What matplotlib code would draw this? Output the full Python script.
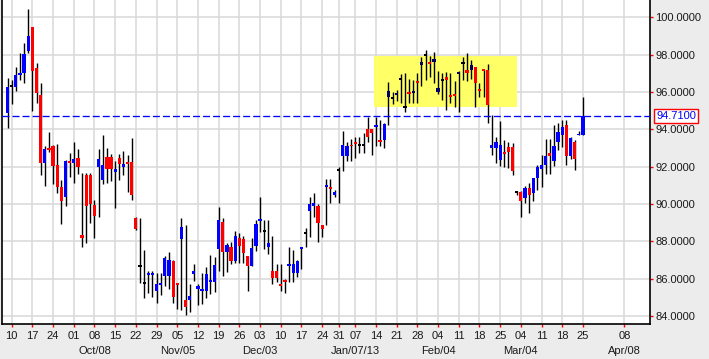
import numpy as np
import pandas as pd
import matplotlib
matplotlib.use("Agg")
import matplotlib.pyplot as plt
from matplotlib.patches import Rectangle

plt.rcParams["font.family"] = ["Liberation Sans", "DejaVu Sans"]

# daily bars, Sep 7 2012 .. Mar 25 2013 (no bars on Christmas / New Year)
first_day = "2012-09-07"
closed_days = ["2012-12-25", "2013-01-01"]

opens = [94.86,
         96.30, 96.29, 96.93, 97.00, 98.20,
         99.46, 97.27, 95.82, 92.21, 92.96,
         93.11, 92.11, 90.89, 90.36, 92.27,
         92.18, 92.46, 88.32, 91.55, 91.55,
         89.95, 92.00, 91.29, 92.52, 92.52,
         91.73, 92.46, 92.00, 92.25, 92.25,
         89.25, 86.66, 85.77, 86.20, 86.20,
         85.36, 85.68, 86.16, 86.16, 86.95,
         85.73, 88.11, 84.86, 84.86, 86.25,
         85.45, 85.37, 85.32, 85.86, 85.84,
         87.60, 89.05, 87.41, 87.71, 86.96,
         88.20, 88.10, 87.21, 86.70, 87.77,
         89.10, 88.55, 87.71, 86.41, 86.41,
         85.66, 85.88, 86.70, 86.29, 86.29,
         87.61, 88.43, 89.64, 89.91, 89.91,
         88.88, 90.89, 90.89, 90.46,
         91.82, 92.57, 92.59, 93.16,
         93.34, 93.14, 93.14, 94.00, 94.00,
         94.14, 93.43, 93.43, 95.71, 95.66,
         95.84, 96.68, 95.21, 95.96, 95.98,
         96.54, 97.45, 97.96, 97.59, 97.63,
         95.98, 96.64, 96.79, 95.84, 95.86,
         96.95, 97.54, 97.18, 97.18, 97.32,
         96.12, 97.18, 97.18, 92.98, 92.98,
         92.36, 92.80, 93.04, 93.07, 90.66,
         90.66, 90.34, 90.88, 90.57, 91.41,
         91.86, 92.09, 92.75, 92.32, 93.34,
         93.70, 94.23, 92.57, 93.32, 93.70,
         93.70]
highs = [96.73,
         96.64, 97.32, 98.07, 98.61, 100.45,
         99.50, 97.54, 96.46, 93.13, 93.84,
         93.15, 93.21, 91.29, 92.35, 92.71,
         93.34, 92.93, 91.64, 91.64, 91.64,
         90.21, 92.93, 93.70, 93.02, 92.68,
         92.30, 92.68, 92.84, 92.63, 93.55,
         89.30, 89.23, 87.54, 86.43, 86.43,
         86.29, 86.29, 87.21, 87.41, 87.00,
         85.75, 89.25, 88.86, 85.71, 86.79,
         85.71, 86.29, 86.61, 87.27, 87.18,
         89.82, 89.23, 87.93, 87.95, 88.55,
         88.43, 88.29, 87.21, 88.20, 89.14,
         90.36, 89.14, 89.14, 88.29, 86.80,
         86.79, 86.00, 87.68, 87.54, 87.00,
         87.71, 88.70, 90.39, 90.57, 90.00,
         88.90, 91.32, 91.32, 90.75,
         92.00, 93.93, 93.30, 93.50,
         93.60, 93.60, 93.80, 94.68, 94.00,
         94.68, 94.50, 94.32, 96.55, 96.02,
         96.10, 96.96, 97.00, 96.68, 96.64,
         97.00, 97.89, 98.25, 97.93, 98.16,
         97.14, 97.00, 97.09, 97.00, 96.61,
         97.14, 97.86, 98.11, 97.71, 97.35,
         96.50, 97.20, 97.50, 94.75, 93.60,
         94.45, 93.43, 93.34, 93.25, 90.70,
         90.70, 90.96, 91.11, 91.41, 92.09,
         92.63, 93.46, 93.46, 94.23, 94.36,
         94.50, 94.50, 93.61, 93.43, 93.90,
         95.71]
lows = [94.09,
        95.36, 96.07, 96.64, 96.50, 98.07,
        95.00, 95.43, 91.55, 90.98, 92.80,
        91.07, 90.61, 88.93, 89.91, 91.43,
        91.14, 91.61, 87.71, 87.93, 89.00,
        88.20, 89.32, 91.05, 91.14, 91.23,
        89.80, 91.29, 91.55, 90.63, 90.23,
        88.61, 85.75, 84.95, 85.25, 85.04,
        84.68, 85.13, 85.63, 85.43, 84.68,
        84.40, 84.32, 84.05, 84.23, 85.89,
        84.59, 84.63, 84.95, 85.16, 85.30,
        86.40, 86.16, 86.38, 86.80, 86.82,
        86.82, 86.82, 85.36, 86.70, 87.50,
        88.50, 87.59, 87.32, 85.70, 85.84,
        85.36, 85.21, 85.80, 85.80, 86.07,
        86.50, 87.68, 88.25, 89.29, 87.98,
        88.21, 88.88, 90.04, 90.39,
        90.04, 91.79, 92.30, 92.30,
        92.45, 92.71, 92.71, 93.30, 92.62,
        93.11, 93.11, 92.98, 94.23, 95.36,
        95.50, 95.39, 94.95, 95.39, 95.39,
        95.39, 96.32, 96.64, 96.82, 96.50,
        95.89, 95.57, 95.04, 95.39, 95.21,
        94.95, 96.64, 96.61, 96.68, 95.21,
        95.75, 95.75, 94.32, 92.63, 92.20,
        92.05, 91.96, 91.91, 91.55, 90.48,
        89.32, 90.04, 89.54, 90.18, 90.75,
        90.93, 91.61, 91.61, 92.04, 92.89,
        93.07, 92.09, 92.39, 91.82, 93.68,
        93.70]
closes = [96.25,
          96.30, 96.89, 97.00, 98.04, 99.00,
          97.14, 95.96, 92.21, 92.95, 92.89,
          92.05, 90.93, 90.18, 92.30, 92.20,
          92.39, 91.96, 88.20, 89.91, 90.00,
          89.38, 92.41, 92.09, 91.89, 91.89,
          91.86, 92.14, 92.14, 92.14, 90.50,
          88.64, 86.66, 85.77, 86.29, 86.29,
          85.71, 85.75, 87.13, 86.98, 85.04,
          85.66, 88.77, 84.50, 85.09, 86.43,
          85.63, 85.43, 86.25, 85.93, 86.73,
          89.14, 87.45, 87.80, 86.96, 88.29,
          87.77, 87.36, 86.70, 87.66, 88.93,
          89.16, 88.55, 87.91, 86.02, 86.05,
          85.62, 85.84, 86.79, 86.79, 86.96,
          87.71, 88.43, 90.00, 90.04, 89.00,
          88.66, 91.00, 90.84, 90.64,
          91.82, 93.14, 93.11, 93.11,
          93.21, 93.14, 93.14, 93.61, 93.82,
          94.20, 93.34, 94.29, 96.07, 95.66,
          95.93, 96.68, 95.21, 95.90, 96.04,
          96.50, 97.59, 97.96, 97.50, 97.77,
          96.20, 96.64, 96.64, 95.75, 95.82,
          97.07, 97.54, 97.04, 97.43, 96.46,
          96.07, 97.14, 95.30, 93.16, 93.34,
          93.16, 92.71, 92.80, 91.79, 90.66,
          90.18, 90.88, 90.48, 91.41, 92.00,
          92.09, 92.57, 92.57, 93.13, 93.88,
          94.14, 92.57, 93.55, 92.39, 93.75,
          94.71]

last_price = 94.71

# highlighted range
box_from, box_to = "2013-01-14", "2013-03-01"
box_low, box_high = 95.21, 97.93

tick_days = ["2012-09-10", "2012-09-17", "2012-09-24", "2012-10-01", "2012-10-08",
             "2012-10-15", "2012-10-22", "2012-10-29", "2012-11-05", "2012-11-12",
             "2012-11-19", "2012-11-26", "2012-12-03", "2012-12-10", "2012-12-17",
             "2012-12-24", "2012-12-31", "2013-01-07", "2013-01-14", "2013-01-21",
             "2013-01-28", "2013-02-04", "2013-02-11", "2013-02-18", "2013-02-25",
             "2013-03-04", "2013-03-11", "2013-03-18", "2013-03-25", "2013-04-08"]
month_days = ["2012-10-08", "2012-11-05", "2012-12-03", "2013-01-07",
              "2013-02-04", "2013-03-04", "2013-04-08"]
month_labels = ["Oct/08", "Nov/05", "Dec/03", "Jan/07/13", "Feb/04", "Mar/04", "Apr/08"]

# bar slots: weekdays without the closed days, running past the data for the future ticks
days = pd.bdate_range(first_day, "2013-04-30")
days = days[~days.isin(pd.to_datetime(closed_days))]
slot = {d.strftime("%Y-%m-%d"): i for i, d in enumerate(days)}

n = len(closes)
x = np.arange(n)
o = np.array(opens)
c = np.array(closes)
box_x0 = slot[box_from] - 0.5
box_x1 = slot[box_to]

colors = []
for i in range(n):
    if c[i] > o[i]:
        inside = box_x0 <= i <= box_x1 and c[i] > box_low
        colors.append("#000066" if inside else "#0000ff")
    elif c[i] < o[i]:
        colors.append("#ff0000")
    else:
        colors.append("#000000")

body_min = 0.1
bottoms = np.minimum(o, c)
heights = np.abs(c - o)
small = heights < body_min
bottoms[small] = (o[small] + c[small]) / 2 - body_min / 2
heights[small] = body_min

fig = plt.figure(figsize=(7.09, 3.59), dpi=100, facecolor="#ececec")
ax = fig.add_axes([2 / 709, 35 / 359, 648 / 709, 324 / 359])
ax.set_facecolor("white")
ax.set_axisbelow(True)

ax.add_patch(Rectangle((box_x0, box_low), box_x1 - box_x0, box_high - box_low,
                       facecolor="#ffff66", edgecolor="none", zorder=1.5))

ax.vlines(x, lows, highs, color="black", linewidth=1.0, zorder=3)
ax.bar(x, heights, bottom=bottoms, width=0.78, color=colors, linewidth=0, zorder=4)

ax.axhline(last_price, color="#0000ff", linewidth=0.95, linestyle=(0, (5.3, 2.3)), zorder=5)
ax.annotate(f"{last_price:.4f}", xy=(1, last_price), xycoords=("axes fraction", "data"),
            xytext=(4.5, 0), textcoords="offset points", ha="left", va="center",
            color="#0000ff", fontsize=8,
            bbox=dict(boxstyle="square,pad=0.2", facecolor="white", edgecolor="#ff0000", linewidth=1))

ax.set_xlim(slot["2012-09-10"] - 2.34, slot["2012-09-10"] + 154.2)
ax.set_ylim(83.57, 100.93)

ax.set_xticks([slot[d] for d in tick_days])
ax.set_xticklabels([d[-2:] for d in tick_days])
ax.set_yticks(np.arange(84, 101, 2))
ax.set_yticklabels([f"{v:.4f}" for v in np.arange(84, 101, 2)])
ax.yaxis.tick_right()
ax.tick_params(axis="both", colors="#ff0000", length=2.5, width=1, labelsize=8,
               labelcolor="#1a1a1a")
ax.tick_params(axis="y", pad=1.5)
ax.tick_params(axis="x", pad=2.5)

# second row of the date axis: first Monday of each month
for d, lab in zip(month_days, month_labels):
    ax.annotate(lab, xy=(slot[d], 0), xycoords=("data", "axes fraction"),
                xytext=(0, -19.5), textcoords="offset points", ha="center", va="center",
                fontsize=8, color="#1a1a1a", annotation_clip=False)

ax.grid(True, color="#d9d9d9", linewidth=1.1)
for side in ["left", "bottom", "right"]:
    ax.spines[side].set_color("black")
    ax.spines[side].set_linewidth(1.2)
ax.spines["top"].set_visible(False)

fig.savefig("out.png", dpi=100, facecolor=fig.get_facecolor())
